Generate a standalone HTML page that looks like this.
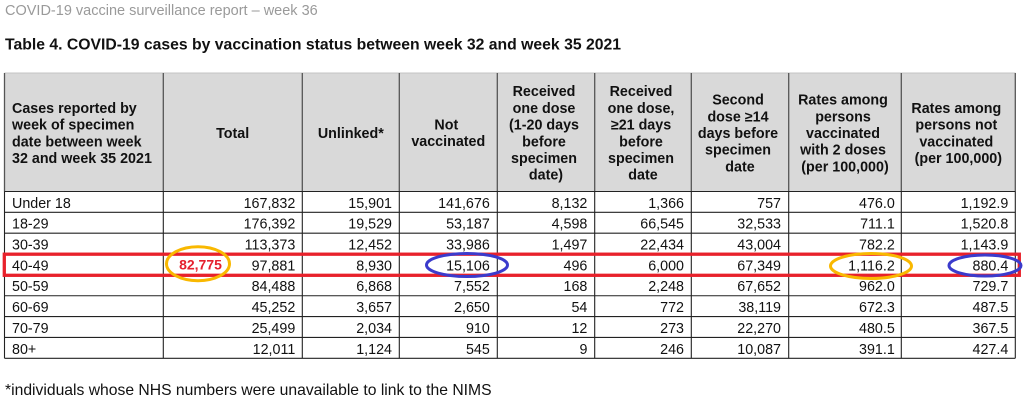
<!DOCTYPE html>
<html>
<head>
<meta charset="utf-8">
<style>
  html,body{margin:0;padding:0;background:#fff;}
  body{width:1024px;height:405px;overflow:hidden;}
  svg{display:block;}
  .t{font-family:"Liberation Sans",Arial,sans-serif;}
  .h{font-family:"Liberation Sans",Arial,sans-serif;font-weight:bold;font-size:14.3px;fill:#111;text-anchor:middle;}
  .b{font-family:"Liberation Sans",Arial,sans-serif;font-size:14.3px;fill:#111;}
  .r{text-anchor:end;}
</style>
</head>
<body>
<svg width="1024" height="405" viewBox="0 0 1024 405" xmlns="http://www.w3.org/2000/svg">
  <!-- page titles -->
  <text class="t" x="5" y="15" font-size="14.5" fill="#9a9a9a">COVID-19 vaccine surveillance report – week 36</text>
  <text class="t" x="5" y="49.3" font-size="15.75" font-weight="bold" fill="#111">Table 4. COVID-19 cases by vaccination status between week 32 and week 35 2021</text>

  <!-- header background -->
  <rect x="4.5" y="73" width="1011" height="118.5" fill="#d9d9d9"/>
  <line x1="4.5" y1="73" x2="1015.5" y2="73" stroke="#c4c4c4" stroke-width="1"/>

  <!-- header verticals -->
  <g stroke="#555" stroke-width="1.3">
    <line x1="4.5" y1="73" x2="4.5" y2="191.5"/>
    <line x1="163.3" y1="73" x2="163.3" y2="191.5"/>
    <line x1="302.3" y1="73" x2="302.3" y2="191.5"/>
    <line x1="399.3" y1="73" x2="399.3" y2="191.5"/>
    <line x1="497.3" y1="73" x2="497.3" y2="191.5"/>
    <line x1="594.7" y1="73" x2="594.7" y2="191.5"/>
    <line x1="691.3" y1="73" x2="691.3" y2="191.5"/>
    <line x1="788.7" y1="73" x2="788.7" y2="191.5"/>
    <line x1="901.3" y1="73" x2="901.3" y2="191.5"/>
    <line x1="1015.3" y1="73" x2="1015.3" y2="191.5"/>
  </g>

  <!-- body verticals -->
  <g stroke="#222" stroke-width="1.1">
    <line x1="4.5" y1="191.5" x2="4.5" y2="358.3"/>
    <line x1="163.3" y1="191.5" x2="163.3" y2="358.3"/>
    <line x1="302.3" y1="191.5" x2="302.3" y2="358.3"/>
    <line x1="399.3" y1="191.5" x2="399.3" y2="358.3"/>
    <line x1="497.3" y1="191.5" x2="497.3" y2="358.3"/>
    <line x1="594.7" y1="191.5" x2="594.7" y2="358.3"/>
    <line x1="691.3" y1="191.5" x2="691.3" y2="358.3"/>
    <line x1="788.7" y1="191.5" x2="788.7" y2="358.3"/>
    <line x1="901.3" y1="191.5" x2="901.3" y2="358.3"/>
    <line x1="1015.3" y1="191.5" x2="1015.3" y2="358.3"/>
  </g>

  <!-- horizontal row lines -->
  <g stroke="#222" stroke-width="1.1">
    <line x1="4.5" y1="191.5" x2="1015.3" y2="191.5"/>
    <line x1="4.5" y1="212.35" x2="1015.3" y2="212.35"/>
    <line x1="4.5" y1="233.2" x2="1015.3" y2="233.2"/>
    <line x1="4.5" y1="254.05" x2="1015.3" y2="254.05"/>
    <line x1="4.5" y1="274.9" x2="1015.3" y2="274.9"/>
    <line x1="4.5" y1="295.75" x2="1015.3" y2="295.75"/>
    <line x1="4.5" y1="316.6" x2="1015.3" y2="316.6"/>
    <line x1="4.5" y1="337.45" x2="1015.3" y2="337.45"/>
    <line x1="4.5" y1="358.3" x2="1015.3" y2="358.3"/>
  </g>

  <!-- header text -->
  <text class="h" x="12" y="112.9" style="text-anchor:start">
    <tspan x="12" y="112.9">Cases reported by</tspan>
    <tspan x="12" y="129.6">week of specimen</tspan>
    <tspan x="12" y="146.3">date between week</tspan>
    <tspan x="12" y="163">32 and week 35 2021</tspan>
  </text>
  <text class="h" x="232.7" y="137.8">Total</text>
  <text class="h" x="350.8" y="137.8">Unlinked*</text>
  <text class="h">
    <tspan x="448.3" y="129.4">Not</tspan>
    <tspan x="448.3" y="146.1">vaccinated</tspan>
  </text>
  <text class="h">
    <tspan x="546" y="96.2">Received</tspan>
    <tspan x="546" y="112.9">one dose</tspan>
    <tspan x="546" y="129.6">(1-20 days</tspan>
    <tspan x="546" y="146.3">before</tspan>
    <tspan x="546" y="163">specimen</tspan>
    <tspan x="546" y="179.7">date)</tspan>
  </text>
  <text class="h">
    <tspan x="643" y="96.2">Received</tspan>
    <tspan x="643" y="112.9">one dose,</tspan>
    <tspan x="643" y="129.6">≥21 days</tspan>
    <tspan x="643" y="146.3">before</tspan>
    <tspan x="643" y="163">specimen</tspan>
    <tspan x="643" y="179.7">date</tspan>
  </text>
  <text class="h">
    <tspan x="740" y="104.6">Second</tspan>
    <tspan x="740" y="121.3">dose ≥14</tspan>
    <tspan x="740" y="138">days before</tspan>
    <tspan x="740" y="154.7">specimen</tspan>
    <tspan x="740" y="171.4">date</tspan>
  </text>
  <text class="h">
    <tspan x="845" y="104.6">Rates among</tspan>
    <tspan x="845" y="121.3">persons</tspan>
    <tspan x="845" y="138">vaccinated</tspan>
    <tspan x="845" y="154.7">with 2 doses</tspan>
    <tspan x="845" y="171.4">(per 100,000)</tspan>
  </text>
  <text class="h">
    <tspan x="958.3" y="112.9">Rates among</tspan>
    <tspan x="958.3" y="129.6">persons not</tspan>
    <tspan x="958.3" y="146.3">vaccinated</tspan>
    <tspan x="958.3" y="163">(per 100,000)</tspan>
  </text>

  <!-- body rows -->
  <g class="b">
    <!-- row labels -->
    <text x="12" y="207.8">Under 18</text>
    <text x="12" y="228.65">18-29</text>
    <text x="12" y="249.5">30-39</text>
    <text x="12" y="270.35">40-49</text>
    <text x="12" y="291.2">50-59</text>
    <text x="12" y="312.05">60-69</text>
    <text x="12" y="332.9">70-79</text>
    <text x="12" y="353.75">80+</text>
  </g>
  <g class="b r">
    <!-- Total -->
    <text x="295.3" y="207.8">167,832</text>
    <text x="295.3" y="228.65">176,392</text>
    <text x="295.3" y="249.5">113,373</text>
    <text x="295.3" y="270.35">97,881</text>
    <text x="295.3" y="291.2">84,488</text>
    <text x="295.3" y="312.05">45,252</text>
    <text x="295.3" y="332.9">25,499</text>
    <text x="295.3" y="353.75">12,011</text>
    <!-- Unlinked -->
    <text x="392" y="207.8">15,901</text>
    <text x="392" y="228.65">19,529</text>
    <text x="392" y="249.5">12,452</text>
    <text x="392" y="270.35">8,930</text>
    <text x="392" y="291.2">6,868</text>
    <text x="392" y="312.05">3,657</text>
    <text x="392" y="332.9">2,034</text>
    <text x="392" y="353.75">1,124</text>
    <!-- Not vaccinated -->
    <text x="489.8" y="207.8">141,676</text>
    <text x="489.8" y="228.65">53,187</text>
    <text x="489.8" y="249.5">33,986</text>
    <text x="489.8" y="270.35">15,106</text>
    <text x="489.8" y="291.2">7,552</text>
    <text x="489.8" y="312.05">2,650</text>
    <text x="489.8" y="332.9">910</text>
    <text x="489.8" y="353.75">545</text>
    <!-- one dose 1-20 -->
    <text x="587.4" y="207.8">8,132</text>
    <text x="587.4" y="228.65">4,598</text>
    <text x="587.4" y="249.5">1,497</text>
    <text x="587.4" y="270.35">496</text>
    <text x="587.4" y="291.2">168</text>
    <text x="587.4" y="312.05">54</text>
    <text x="587.4" y="332.9">12</text>
    <text x="587.4" y="353.75">9</text>
    <!-- one dose >=21 -->
    <text x="684" y="207.8">1,366</text>
    <text x="684" y="228.65">66,545</text>
    <text x="684" y="249.5">22,434</text>
    <text x="684" y="270.35">6,000</text>
    <text x="684" y="291.2">2,248</text>
    <text x="684" y="312.05">772</text>
    <text x="684" y="332.9">273</text>
    <text x="684" y="353.75">246</text>
    <!-- second dose -->
    <text x="781" y="207.8">757</text>
    <text x="781" y="228.65">32,533</text>
    <text x="781" y="249.5">43,004</text>
    <text x="781" y="270.35">67,349</text>
    <text x="781" y="291.2">67,652</text>
    <text x="781" y="312.05">38,119</text>
    <text x="781" y="332.9">22,270</text>
    <text x="781" y="353.75">10,087</text>
    <!-- rates vaccinated -->
    <text x="894.8" y="207.8">476.0</text>
    <text x="894.8" y="228.65">711.1</text>
    <text x="894.8" y="249.5">782.2</text>
    <text x="894.8" y="270.35">1,116.2</text>
    <text x="894.8" y="291.2">962.0</text>
    <text x="894.8" y="312.05">672.3</text>
    <text x="894.8" y="332.9">480.5</text>
    <text x="894.8" y="353.75">391.1</text>
    <!-- rates not vaccinated -->
    <text x="1008.3" y="207.8">1,192.9</text>
    <text x="1008.3" y="228.65">1,520.8</text>
    <text x="1008.3" y="249.5">1,143.9</text>
    <text x="1008.3" y="270.35">880.4</text>
    <text x="1008.3" y="291.2">729.7</text>
    <text x="1008.3" y="312.05">487.5</text>
    <text x="1008.3" y="332.9">367.5</text>
    <text x="1008.3" y="353.75">427.4</text>
  </g>

  <!-- red highlight box -->
  <rect x="4.3" y="254.2" width="1015" height="21.1" fill="none" stroke="#e8212b" stroke-width="3.3"/>

  <!-- annotation ellipses -->
  <ellipse cx="198" cy="263.7" rx="31.5" ry="17" fill="none" stroke="#f9b800" stroke-width="3"/>
  <ellipse cx="467" cy="265" rx="40.5" ry="11.5" fill="none" stroke="#3b3bcc" stroke-width="3"/>
  <ellipse cx="871" cy="266" rx="40.5" ry="12.5" fill="none" stroke="#f9b800" stroke-width="3"/>
  <ellipse cx="985" cy="265.5" rx="36" ry="10.5" fill="none" stroke="#3b3bcc" stroke-width="3"/>

  <!-- red value -->
  <text class="t" x="200.5" y="269.5" font-size="14" font-weight="bold" fill="#e5202e" text-anchor="middle">82,775</text>

  <!-- footnote -->
  <text class="t" x="5" y="395" font-size="15.7" fill="#111">*individuals whose NHS numbers were unavailable to link to the NIMS</text>
</svg>
</body>
</html>
